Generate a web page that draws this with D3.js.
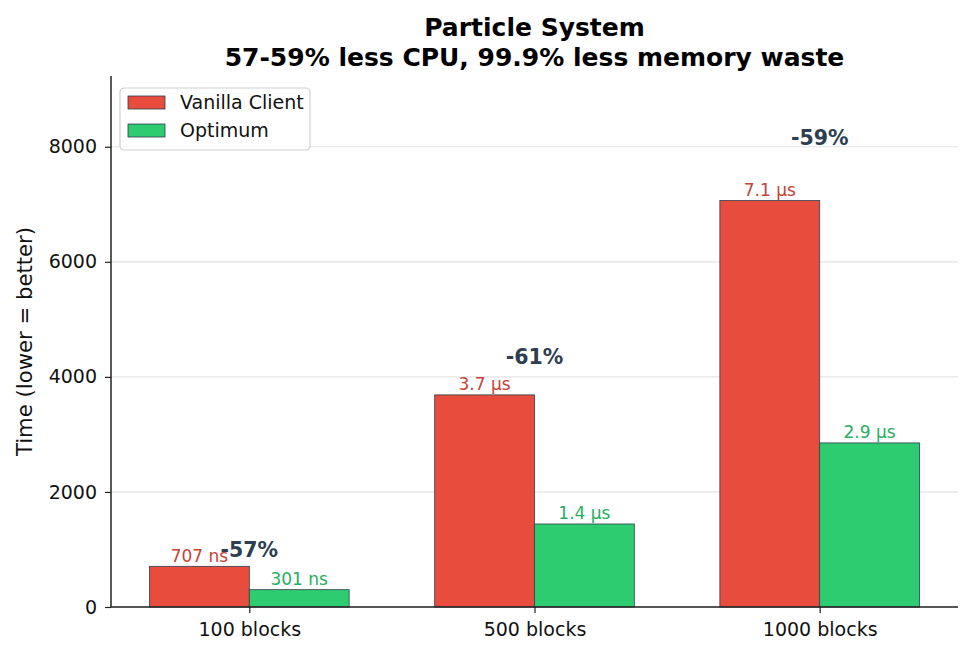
<!DOCTYPE html>
<html>
<head>
<meta charset="utf-8">
<script src="https://cdn.jsdelivr.net/npm/d3@7"></script>
<style>
  body { margin: 0; background: #fff; }
  text { font-family: "DejaVu Sans", sans-serif; }
</style>
</head>
<body>
<div id="chart"></div>
<script>
// Data
const groups = ["100 blocks", "500 blocks", "1000 blocks"];
const vanilla = [707, 3687, 7065];
const optimum = [301, 1443, 2852];
const vanillaLabels = ["707 ns", "3.7 µs", "7.1 µs"];
const optimumLabels = ["301 ns", "1.4 µs", "2.9 µs"];
const reductions = ["-57%", "-61%", "-59%"];
const yTicks = [0, 2000, 4000, 6000, 8000];
const seriesNames = ["Vanilla Client", "Optimum"];
const seriesColors = ["#e74c3c", "#2ecc71"];
const labelColors = ["#c94236", "#27ae60"];

const W = 972, H = 656;
const margin = {top: 76, right: 14, bottom: 49, left: 111};
const width = W - margin.left - margin.right;
const height = H - margin.top - margin.bottom;
const barW = 0.35;

const svg = d3.select("#chart").append("svg")
  .attr("width", W)
  .attr("height", H);

const g = svg.append("g")
  .attr("transform", `translate(${margin.left},${margin.top})`);

const x = d3.scaleLinear()
  .domain([-0.485, groups.length - 1 + 0.485])
  .range([0, width]);

const y = d3.scaleLinear()
  .domain([0, 9230])
  .range([height, 0]);

// grid
g.selectAll(".grid")
  .data(yTicks)
  .enter().append("line")
  .attr("x1", 0)
  .attr("x2", width)
  .attr("y1", d => y(d))
  .attr("y2", d => y(d))
  .attr("stroke", "#e3e3e3")
  .attr("stroke-width", 1.2);

// bars
const series = [vanilla, optimum];
series.forEach((vals, s) => {
  const off = s === 0 ? -barW / 2 : barW / 2;
  g.selectAll(`.bar-${s}`)
    .data(vals)
    .enter().append("rect")
    .attr("class", `bar-${s}`)
    .attr("x", (d, i) => x(i + off - barW / 2))
    .attr("width", x(barW) - x(0))
    .attr("y", d => y(d))
    .attr("height", d => y(0) - y(d))
    .attr("fill", seriesColors[s])
    .attr("stroke", "#2c3e50")
    .attr("stroke-width", 0.8);

  const labs = s === 0 ? vanillaLabels : optimumLabels;
  g.selectAll(`.val-${s}`)
    .data(vals)
    .enter().append("text")
    .attr("x", (d, i) => x(i + off))
    .attr("y", d => y(d) - 4.5)
    .attr("text-anchor", "middle")
    .attr("font-size", "17px")
    .attr("fill", labelColors[s])
    .text((d, i) => labs[i]);
});

// reduction labels
g.selectAll(".pct")
  .data(vanilla)
  .enter().append("text")
  .attr("x", (d, i) => x(i))
  .attr("y", d => y(d * 1.125 + 75))
  .attr("text-anchor", "middle")
  .attr("font-size", "20.5px")
  .attr("font-weight", "bold")
  .attr("fill", "#2c3e50")
  .text((d, i) => reductions[i]);

// axes
const yAxis = g.append("g")
  .call(d3.axisLeft(y).tickValues(yTicks).tickSize(6).tickPadding(8).tickFormat(d3.format("d")));
yAxis.select(".domain").remove();
yAxis.selectAll("line").attr("stroke", "#222").attr("stroke-width", 1.2);
yAxis.selectAll("text").attr("font-size", "19px").attr("fill", "#111")
  .attr("font-family", "DejaVu Sans");

const xAxis = g.append("g")
  .attr("transform", `translate(0,${height})`)
  .call(d3.axisBottom(x).tickValues(d3.range(groups.length)).tickSize(6).tickPadding(10)
    .tickFormat(i => groups[i]));
xAxis.select(".domain").remove();
xAxis.selectAll("line").attr("stroke", "#222").attr("stroke-width", 1.2);
xAxis.selectAll("text").attr("font-size", "19px").attr("fill", "#111")
  .attr("font-family", "DejaVu Sans");

// spines
g.append("line").attr("x1", 0).attr("x2", 0).attr("y1", 0).attr("y2", height)
  .attr("stroke", "#222").attr("stroke-width", 1.5);
g.append("line").attr("x1", 0).attr("x2", width).attr("y1", height).attr("y2", height)
  .attr("stroke", "#222").attr("stroke-width", 1.5);

// y label
svg.append("text")
  .attr("transform", `translate(32,${margin.top + height / 2}) rotate(-90)`)
  .attr("text-anchor", "middle")
  .attr("font-size", "21.2px")
  .attr("fill", "#111")
  .text("Time (lower = better)");

// title
const title = svg.append("text")
  .attr("x", margin.left + width / 2)
  .attr("text-anchor", "middle")
  .attr("font-size", "25px")
  .attr("font-weight", "bold")
  .attr("fill", "#000");
title.append("tspan").attr("x", margin.left + width / 2).attr("y", 36).text("Particle System");
title.append("tspan").attr("x", margin.left + width / 2).attr("y", 66).text("57-59% less CPU, 99.9% less memory waste");

// legend
const legend = g.append("g").attr("transform", "translate(9,12)");
legend.append("rect")
  .attr("width", 190)
  .attr("height", 62)
  .attr("rx", 4)
  .attr("fill", "#fff")
  .attr("fill-opacity", 0.85)
  .attr("stroke", "#d0d0d0")
  .attr("stroke-width", 1.2);
const items = legend.selectAll(".item")
  .data(seriesNames)
  .enter().append("g")
  .attr("transform", (d, i) => `translate(8,${8 + i * 28})`);
items.append("rect")
  .attr("width", 37)
  .attr("height", 13)
  .attr("fill", (d, i) => seriesColors[i])
  .attr("stroke", "#2c3e50")
  .attr("stroke-width", 0.8);
items.append("text")
  .attr("x", 52)
  .attr("y", 6.5)
  .attr("dy", "0.35em")
  .attr("font-size", "19px")
  .attr("fill", "#111")
  .text(d => d);
</script>
</body>
</html>
